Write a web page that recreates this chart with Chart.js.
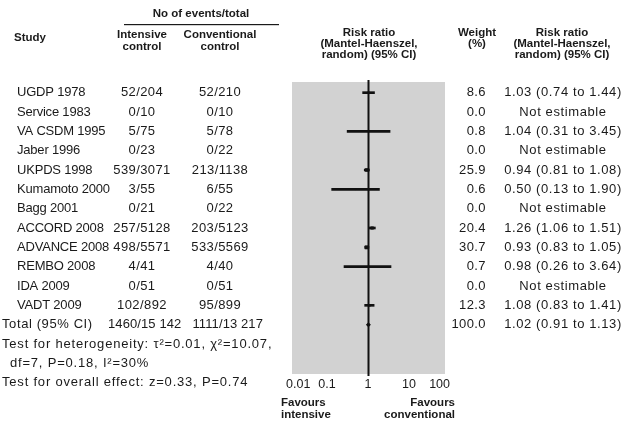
<!DOCTYPE html>
<html>
<head>
<meta charset="utf-8">
<script src="https://cdn.jsdelivr.net/npm/chart.js@4/dist/chart.umd.min.js"></script>
<style>
  html, body { margin: 0; padding: 0; background: #fff; }
  #wrap { width: 626px; height: 429px; }
</style>
</head>
<body>
<div id="wrap"><canvas id="forest" width="626" height="429"></canvas></div>
<script>
// Trials in the meta-analysis, top to bottom
const studies = ['UGDP 1978', 'Service 1983', 'VA CSDM 1995', 'Jaber 1996', 'UKPDS 1998',
  'Kumamoto 2000', 'Bagg 2001', 'ACCORD 2008', 'ADVANCE 2008', 'REMBO 2008', 'IDA 2009', 'VADT 2009'];
// Events / total in each arm
const intensive = ['52/204', '0/10', '5/75', '0/23', '539/3071', '3/55', '0/21', '257/5128',
  '498/5571', '4/41', '0/51', '102/892'];
const conventional = ['52/210', '0/10', '5/78', '0/22', '213/1138', '6/55', '0/22', '203/5123',
  '533/5569', '4/40', '0/51', '95/899'];
// Weight (%) and risk ratio with 95% CI (null = not estimable)
const weights = [8.6, 0.0, 0.8, 0.0, 25.9, 0.6, 0.0, 20.4, 30.7, 0.7, 0.0, 12.3];
const riskRatio = [1.03, null, 1.04, null, 0.94, 0.50, null, 1.26, 0.93, 0.98, null, 1.08];
const ciLow = [0.74, null, 0.31, null, 0.81, 0.13, null, 1.06, 0.83, 0.26, null, 0.83];
const ciHigh = [1.44, null, 3.45, null, 1.08, 1.90, null, 1.51, 1.05, 3.64, null, 1.41];
// Pooled estimate
const totalLabel = 'Total (95% CI)';
const totalIntensive = '1460/15 142';
const totalConventional = '1111/13 217';
const totalWeight = 100.0;
const totalRR = 1.02;
const totalLow = 0.91;
const totalHigh = 1.13;
// Footer statistics
const heterogeneity = ['Test for heterogeneity: \u03c4\u00b2=0.01, \u03c7\u00b2=10.07,', 'df=7, P=0.18, I\u00b2=30%'];
const overallEffect = 'Test for overall effect: z=0.33, P=0.74';
// Axis ticks
const tickValues = [0.01, 0.1, 1, 10, 100];

const FONT = '"Liberation Sans", Arial, sans-serif';
const INK = '#1a1a1a';
const TOTAL_ROW = studies.length;

const fmt2 = v => v.toFixed(2);
const ciText = (r, l, h) => `${fmt2(r)} (${fmt2(l)} to ${fmt2(h)})`;

// Horizontal confidence-interval segments (floating bars) and point estimates
const ciData = [];
const pointData = [];
const pointRadius = [];
studies.forEach((s, i) => {
  if (riskRatio[i] !== null) {
    ciData.push({ x: [ciLow[i], ciHigh[i]], y: i });
    pointData.push({ x: riskRatio[i], y: i });
    pointRadius.push(Math.max(1, Math.sqrt(weights[i]) * 0.5));
  }
});

const background = {
  id: 'background',
  beforeDraw(chart) {
    const { ctx, chartArea: a } = chart;
    ctx.save();
    ctx.fillStyle = '#fff';
    ctx.fillRect(0, 0, chart.width, chart.height);
    // shaded plotting panel
    ctx.fillStyle = '#d2d2d2';
    ctx.fillRect(a.left + 6, a.top - 1, a.width - 11, a.height + 2);
    // line of no effect
    const x1 = Math.round(chart.scales.x.getPixelForValue(1)) + 0.5;
    ctx.strokeStyle = '#111';
    ctx.lineWidth = 2;
    ctx.beginPath();
    ctx.moveTo(x1, a.top - 3);
    ctx.lineTo(x1, a.bottom + 3);
    ctx.stroke();
    ctx.restore();
  }
};

const table = {
  id: 'table',
  afterDraw(chart) {
    const { ctx } = chart;
    const ys = chart.scales.y;
    const rowY = r => ys.getPixelForValue(r);
    ctx.save();
    ctx.fillStyle = INK;
    ctx.textBaseline = 'middle';

    const text = (t, x, y, align, opts = {}) => {
      const size = opts.size || 13;
      ctx.font = `${opts.bold ? 'bold ' : ''}${size}px ${FONT}`;
      ctx.letterSpacing = (opts.spacing || 0) + 'px';
      ctx.textAlign = align;
      ctx.fillText(t, x, y);
      ctx.letterSpacing = '0px';
    };
    const head = { bold: true, size: 11.5 };
    const names = { spacing: -0.2 };
    const nums = { spacing: 0.4 };
    const totals = { spacing: 0.1 };
    const ci = { spacing: 0.6 };
    const stats = { spacing: 0.8 };

    // column headers
    text('No of events/total', 201, 14, 'center', head);
    ctx.fillRect(124, 24, 155, 1.2);
    text('Study', 14, 38, 'left', head);
    text('Intensive', 142, 35, 'center', head);
    text('control', 142, 47, 'center', head);
    text('Conventional', 220, 35, 'center', head);
    text('control', 220, 47, 'center', head);
    ['Risk ratio', '(Mantel-Haenszel,', 'random) (95% CI)'].forEach((t, k) => {
      text(t, 369, 33 + k * 11, 'center', head);
      text(t, 562, 33 + k * 11, 'center', head);
    });
    text('Weight', 477, 33, 'center', head);
    text('(%)', 477, 44, 'center', head);

    // study rows
    studies.forEach((s, i) => {
      const y = rowY(i);
      text(s, 17, y, 'left', names);
      text(intensive[i], 142, y, 'center', nums);
      text(conventional[i], 220, y, 'center', nums);
      text(weights[i].toFixed(1), 486, y, 'right', nums);
      text(riskRatio[i] === null ? 'Not estimable' : ciText(riskRatio[i], ciLow[i], ciHigh[i]), 563, y, 'center', ci);
    });

    // pooled row
    const yt = rowY(TOTAL_ROW);
    text(totalLabel, 2, yt, 'left', ci);
    text(totalIntensive, 108, yt, 'left', totals);
    text(totalConventional, 263, yt, 'right', totals);
    text(totalWeight.toFixed(1), 486, yt, 'right', nums);
    text(ciText(totalRR, totalLow, totalHigh), 563, yt, 'center', ci);

    // statistics
    text(heterogeneity[0], 2, rowY(TOTAL_ROW + 1), 'left', stats);
    text(heterogeneity[1], 10, rowY(TOTAL_ROW + 2), 'left', stats);
    text(overallEffect, 2, rowY(TOTAL_ROW + 3), 'left', stats);

    // direction captions under the axis
    const xs = chart.scales.x;
    text('Favours', xs.left - 5, 403, 'left', head);
    text('intensive', xs.left - 5, 415, 'left', head);
    text('Favours', xs.right + 5, 403, 'right', head);
    text('conventional', xs.right + 5, 415, 'right', head);
    ctx.restore();
  }
};

new Chart(document.getElementById('forest'), {
  type: 'bar',
  data: {
    datasets: [
      {
        type: 'bar',
        label: '95% CI',
        data: ciData,
        backgroundColor: '#111',
        borderWidth: 0,
        barThickness: 2,
        order: 2
      },
      {
        type: 'scatter',
        label: 'Risk ratio',
        data: pointData,
        pointStyle: 'rect',
        pointRadius: pointRadius,
        backgroundColor: '#111',
        borderColor: '#111',
        borderWidth: 0,
        order: 1
      },
      {
        type: 'scatter',
        label: 'Pooled',
        data: [{ x: totalRR, y: TOTAL_ROW }],
        pointStyle: 'rectRot',
        pointRadius: 2.5,
        backgroundColor: '#111',
        borderWidth: 0,
        order: 0
      }
    ]
  },
  options: {
    indexAxis: 'y',
    responsive: false,
    animation: false,
    layout: { padding: { left: 286, right: 176, top: 83, bottom: 34 } },
    plugins: { legend: { display: false }, tooltip: { enabled: false } },
    scales: {
      x: {
        type: 'logarithmic',
        min: 0.01,
        max: 100,
        grid: { display: false, drawTicks: false },
        border: { display: false },
        afterBuildTicks: s => { s.ticks = tickValues.map(v => ({ value: v })); },
        afterFit: s => { s.height = 22; },
        ticks: {
          autoSkip: false,
          maxRotation: 0,
          align: 'inner',
          padding: 4,
          color: INK,
          font: { family: FONT, size: 12.5 },
          callback: v => String(v)
        }
      },
      y: {
        type: 'linear',
        min: -0.5,
        max: 14.5,
        reverse: true,
        offset: false,
        display: false
      }
    }
  },
  plugins: [background, table]
});
</script>
</body>
</html>
